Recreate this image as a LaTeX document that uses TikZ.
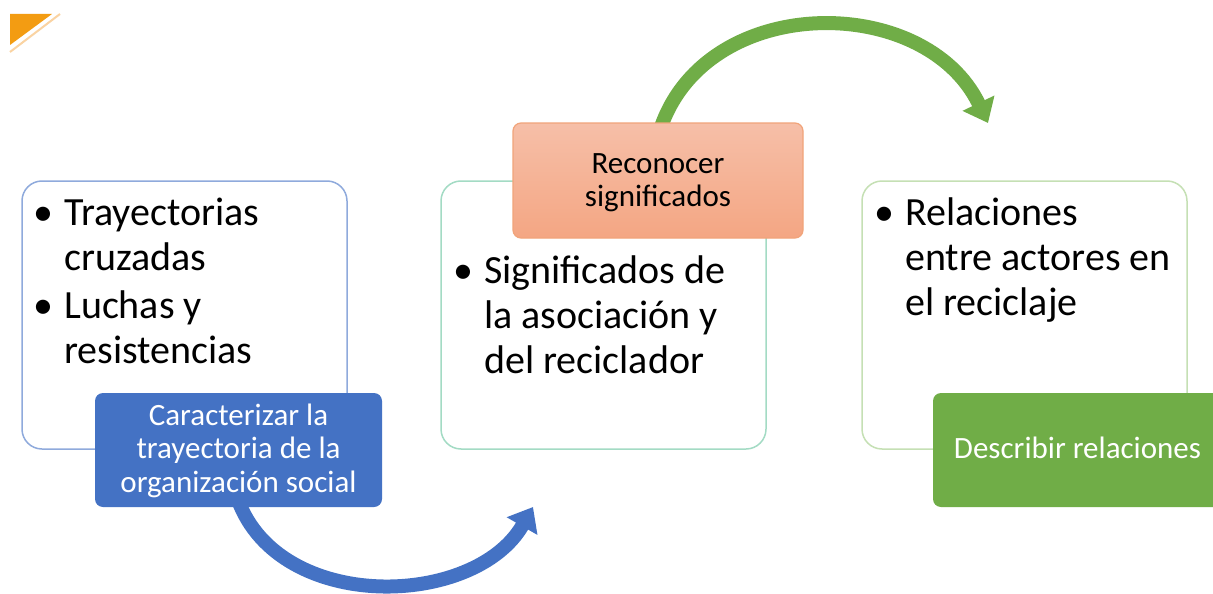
\documentclass[tikz,border=0pt]{standalone}
\usepackage{fontspec}
\setmainfont{Carlito}
\usetikzlibrary{arrows.meta}
\definecolor{cblue}{HTML}{4472C4}
\definecolor{cgreen}{HTML}{70AD47}
\definecolor{lblue}{HTML}{8FAADC}
\definecolor{lmint}{HTML}{A3DBC4}
\definecolor{lgreen}{HTML}{C5E0B4}
\definecolor{saltop}{HTML}{F6BFA8}
\definecolor{salbot}{HTML}{F4A683}
\definecolor{saledge}{HTML}{F1A47A}
\definecolor{corner}{HTML}{F39C12}
\definecolor{cornerlt}{HTML}{FAD3A2}
\newcommand\BigTxt{\fontsize{40}{45}\selectfont}
\newcommand\SmlTxt{\fontsize{31}{33.5}\selectfont}
\begin{document}
\begin{tikzpicture}[x=1pt,y=-1pt,
  outerbox/.style={draw, line width=1.5pt, fill=white, rounded corners=20pt, minimum width=325pt, minimum height=268pt, inner sep=0pt},
  tagbox/.style={rounded corners=8pt, inner sep=0pt},
  bigline/.style={anchor=base west, inner sep=0pt, font=\BigTxt, text=black},
  bul/.style={anchor=base, inner sep=0pt, font=\BigTxt, text=black},
  tagline/.style={anchor=base, inner sep=0pt, font=\SmlTxt},
  bigarrow/.style={line width=14pt, -{Triangle[length=22pt,width=34pt]}}
]
\clip (0,0) rectangle (1213,594);
\useasboundingbox (0,0) rectangle (1213,594);
\fill[white] (0,0) rectangle (1213,594);
% corner mark
\fill[corner] (10,14) -- (52,14) -- (10,45) -- cycle;
\draw[cornerlt, line width=2pt] (60,14) -- (10,52);
% arrow anchors
\coordinate (bs) at (238,500);
\coordinate (be) at (533,507);
\coordinate (gs) at (660,130);
\coordinate (ge) at (988,123);
% arrows
\draw[bigarrow, cblue] (bs) .. controls (280,614) and (475,608) .. (be);
\draw[bigarrow, cgreen] (gs) .. controls (705,-8) and (925,-8) .. (ge);
% outer boxes
\node[outerbox, draw=lblue] (L) at (184.5,315) {};
\node[outerbox, draw=lmint] (M) at (603.5,315) {};
\node[outerbox, draw=lgreen] (R) at (1024.5,315) {};
% left texts
\node[bul] (lb1) at (43,225) {•};
\node[bigline] (l1) at (64,225) {Trayectorias};
\node[bigline] (l2) at (64,270) {cruzadas};
\node[bul] (lb2) at (43,318) {•};
\node[bigline] (l3) at (64,318) {Luchas y};
\node[bigline] (l4) at (64,363) {resistencias};
% middle texts
\node[bul] (mb1) at (463,283) {•};
\node[bigline] (m1) at (484,283) {Significados de};
\node[bigline] (m2) at (484,328) {la asociación y};
\node[bigline] (m3) at (484,373) {del reciclador};
% right texts
\node[bul] (rb1) at (884,225) {•};
\node[bigline] (r1) at (905,225) {Relaciones};
\node[bigline] (r2) at (905,270) {entre actores en};
\node[bigline] (r3) at (905,315) {el reciclaje};
% tag boxes
\node[tagbox, fill=cblue, minimum width=287pt, minimum height=114pt] (B) at (238.5,450) {};
\node[tagline, text=white] (B1) at (238.5,425) {Caracterizar la};
\node[tagline, text=white] (B2) at (238.5,458.5) {trayectoria de la};
\node[tagline, text=white] (B3) at (238.5,492) {organización social};
\node[tagbox, draw=saledge, line width=1.2pt, top color=saltop, bottom color=salbot, minimum width=290pt, minimum height=115pt] (S) at (658,180.5) {};
\node[tagline, text=black] (S1) at (658,173) {Reconocer};
\node[tagline, text=black] (S2) at (658,206) {significados};
\node[tagbox, fill=cgreen, minimum width=289pt, minimum height=114pt] (G) at (1077.5,450) {};
\node[tagline, text=white] (G1) at (1077.5,458) {Describir relaciones};
\end{tikzpicture}
\end{document}
